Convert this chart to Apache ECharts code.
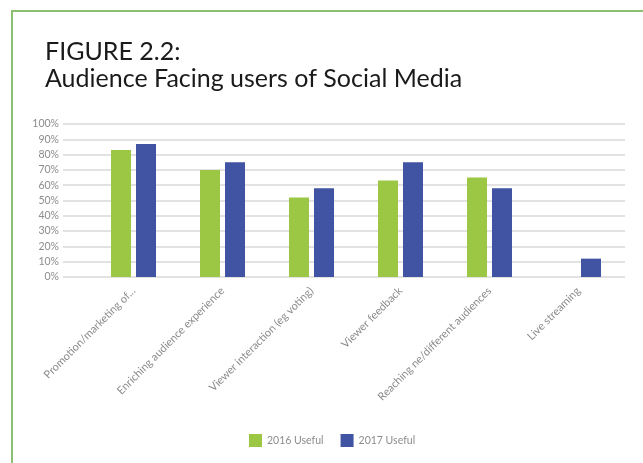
<!DOCTYPE html>
<html>
<head>
<meta charset="utf-8">
<script src="https://cdn.jsdelivr.net/npm/echarts@6/dist/echarts.min.js"></script>
<style>
  html, body { margin: 0; padding: 0; background: #ffffff; }
  #chart { width: 643px; height: 463px; }
</style>
</head>
<body>
<div id="chart"></div>
<script>
// Survey categories and share of respondents finding each use useful (%)
const categories = [
  'Promotion/marketing of...',
  'Enriching audience experience',
  'Viewer interaction (eg voting)',
  'Viewer feedback',
  'Reaching ne/different audiences',
  'Live streaming'
];
const useful2016 = [83, 70, 52, 63, 65, null];
const useful2017 = [87, 75, 58, 75, 58, 12];
const seriesNames = ['2016 Useful', '2017 Useful'];
const yTicks = [0, 10, 20, 30, 40, 50, 60, 70, 80, 90, 100];

const GREEN = '#9cc744';
const BLUE = '#4153a3';
const TEXT_GREY = '#8c8c8c';
const FONT = 'Lato, "Open Sans", sans-serif';

const chart = echarts.init(document.getElementById('chart'), null, { renderer: 'canvas' });

const plotTop = 124, plotBottom = 186;

chart.setOption({
  animation: false,
  backgroundColor: '#ffffff',
  textStyle: { fontFamily: FONT },
  title: {
    text: 'FIGURE 2.2:\nAudience Facing users of Social Media',
    left: 40,
    top: 33,
    textStyle: {
      fontFamily: FONT,
      fontSize: 25,
      fontWeight: 'normal',
      color: '#1a1a1a',
      lineHeight: 27
    }
  },
  graphic: [{
    type: 'rect',
    shape: { x: 12, y: 11, width: 700, height: 500 },
    style: { fill: 'none', stroke: '#8cc071', lineWidth: 2 },
    silent: true,
    z: -1
  }],
  legend: {
    data: seriesNames,
    left: 244,
    top: 429,
    itemWidth: 13,
    itemHeight: 13,
    itemGap: 17,
    icon: 'rect',
    textStyle: { color: TEXT_GREY, fontSize: 10.5, fontFamily: FONT }
  },
  grid: [
    // gridline frame with the y scale
    { left: 63, right: 18, top: plotTop, bottom: plotBottom },
    // bar area
    { left: 89, right: 20, top: plotTop, bottom: plotBottom }
  ],
  xAxis: [
    { gridIndex: 0, type: 'value', min: 0, max: 1, show: false },
    {
      gridIndex: 1,
      type: 'category',
      data: categories,
      axisLine: { show: false },
      axisTick: { show: false },
      axisLabel: {
        rotate: 45,
        interval: 0,
        margin: 12,
        color: TEXT_GREY,
        fontSize: 11,
        fontFamily: FONT
      }
    }
  ],
  yAxis: [
    {
      gridIndex: 0,
      type: 'value',
      min: yTicks[0],
      max: yTicks[yTicks.length - 1],
      interval: 10,
      axisLine: { show: false },
      axisTick: { show: false },
      axisLabel: {
        formatter: '{value}%',
        color: TEXT_GREY,
        fontSize: 10.5,
        margin: 4,
        fontFamily: FONT
      },
      splitLine: { lineStyle: { color: '#d9d9d9', width: 1.5 } }
    },
    {
      gridIndex: 1,
      type: 'value',
      min: yTicks[0],
      max: yTicks[yTicks.length - 1],
      interval: 10,
      show: false,
      splitLine: { show: false }
    }
  ],
  series: [
    {
      name: seriesNames[0],
      type: 'bar',
      xAxisIndex: 1,
      yAxisIndex: 1,
      data: useful2016,
      barWidth: 20,
      barGap: '25%',
      itemStyle: { color: GREEN }
    },
    {
      name: seriesNames[1],
      type: 'bar',
      xAxisIndex: 1,
      yAxisIndex: 1,
      data: useful2017,
      barWidth: 20,
      barGap: '25%',
      itemStyle: { color: BLUE }
    }
  ]
});
</script>
</body>
</html>
